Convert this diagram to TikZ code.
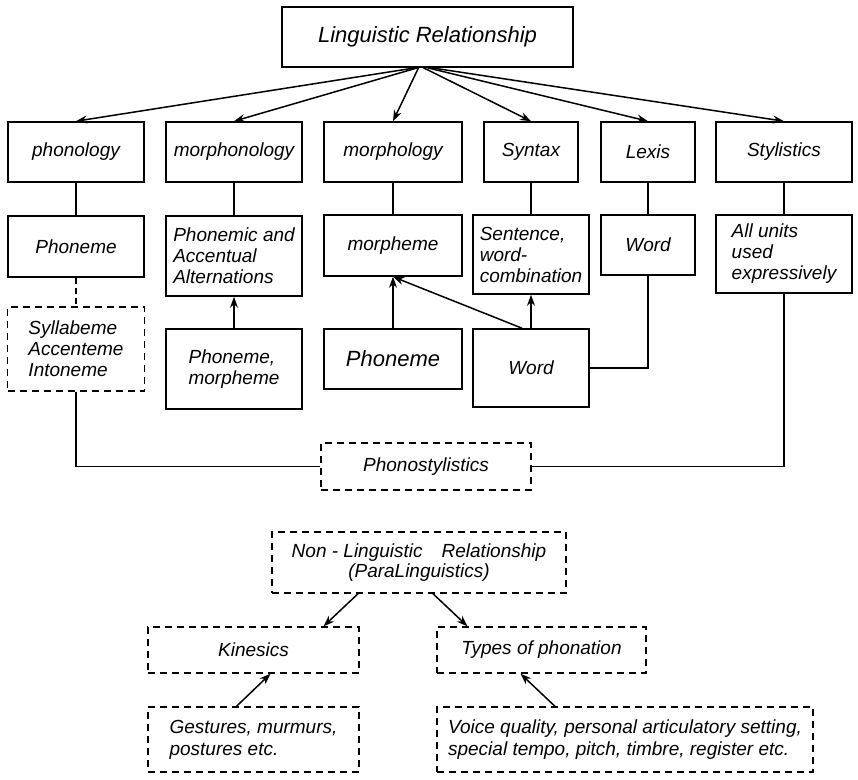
\documentclass[tikz,border=0pt]{standalone}
\usepackage{fontspec}
\setmainfont{Liberation Sans}
\usetikzlibrary{arrows.meta}

\begin{document}
\begin{tikzpicture}[x=1pt,y=1pt,yscale=-1,xscale=1,
  box/.style={draw, line width=1.6pt, inner sep=2pt, align=center, font=\itshape\fontsize{19}{21}\selectfont},
  dbox/.style={box, line width=1.4pt, dash pattern=on 7pt off 5pt},
  link/.style={line width=1.5pt},
  arr/.style={line width=1.5pt, -{Stealth[length=11pt,width=8pt]}}]
\useasboundingbox (0,0) rectangle (858,779);

% Text Node
\node [box, minimum width=291, minimum height=60, font=\itshape\fontsize{22}{26}\selectfont] (ling) at (427.5,37) {Linguistic Relationship};

% Text Node
\node [box, minimum width=136, minimum height=60] (phonology) at (76,152) {phonology};
% Text Node
\node [box, minimum width=136, minimum height=60] (morphonology) at (234,152) {morphonology};
% Text Node
\node [box, minimum width=138, minimum height=60] (morphology) at (393,152) {morphology};
% Text Node
\node [box, minimum width=94, minimum height=60] (syntax) at (531,152) {Syntax};
% Text Node
\node [box, minimum width=94, minimum height=60] (lexis) at (648,152) {Lexis};
% Text Node
\node [box, minimum width=136, minimum height=60] (stylistics) at (784,152) {Stylistics};

% Text Node
\node [box, minimum width=136, minimum height=61] (phoneme) at (76,246.5) {Phoneme};
% Text Node
\node [box, align=left, minimum width=136, minimum height=80] (alternations) at (234,256) {Phonemic and\\Accentual\\Alternations};
% Text Node
\node [box, minimum width=138, minimum height=61] (morpheme) at (393,245.5) {morpheme};
% Text Node
\node [box, align=left, minimum width=116, minimum height=79] (sentence) at (531,254.5) {Sentence,\\word-\\combination};
% Text Node
\node [box, minimum width=94, minimum height=60] (lexword) at (648,245) {Word};
% Text Node
\node [box, align=left, minimum width=136, minimum height=78] (allunits) at (784,254) {All units\\used\\expressively};

% Text Node
\node [dbox, align=left, minimum width=137, minimum height=84] (syllabeme) at (76,349) {Syllabeme\\Accenteme\\Intoneme};
% Text Node
\node [box, align=left, minimum width=136, minimum height=80] (phonmorph) at (234,369) {Phoneme,\\morpheme};
% Text Node
\node [box, minimum width=138, minimum height=60, font=\itshape\fontsize{22}{26}\selectfont] (phoneme2) at (393,359) {Phoneme};
% Text Node
\node [box, minimum width=116, minimum height=78] (word) at (531,368) {Word};

% Text Node
\node [dbox, minimum width=210, minimum height=47] (phonostyl) at (426,466.5) {Phonostylistics};

% Text Node
\node [dbox, minimum width=294, minimum height=61, font=\itshape\fontsize{19}{20}\selectfont] (nonling) at (419,562.5) {Non - Linguistic\quad Relationship\\(ParaLinguistics)};
% Text Node
\node [dbox, minimum width=211, minimum height=46] (kinesics) at (253.5,650) {Kinesics};
% Text Node
\node [dbox, minimum width=209, minimum height=46] (types) at (541.5,650) {Types of phonation};
% Text Node
\node [dbox, align=left, minimum width=211, minimum height=65, font=\itshape\fontsize{19}{22}\selectfont] (gestures) at (253.5,739.5) {Gestures, murmurs,\\postures etc.};
% Text Node
\node [dbox, align=left, minimum width=376, minimum height=65, font=\itshape\fontsize{19}{22}\selectfont] (voice) at (625,739.5) {Voice quality, personal articulatory setting,\\special tempo, pitch, timbre, register etc.};

% Arrows from the top
\draw [arr] ([xshift=-12pt]ling.south) -- (phonology.north);
\draw [arr] ([xshift=-10pt]ling.south) -- (morphonology.north);
\draw [arr] ([xshift=-9pt]ling.south) -- (morphology.north);
\draw [arr] ([xshift=-4pt]ling.south) -- (syntax.north);
\draw [arr] ([xshift=0pt]ling.south) -- (lexis.north);
\draw [arr] ([xshift=4pt]ling.south) -- (stylistics.north);

% Straight Lines
\draw [link] (phonology.south) -- (phoneme.north);
\draw [link] (morphonology.south) -- (alternations.north);
\draw [link] (morphology.south) -- (morpheme.north);
\draw [link] (syntax.south) -- (sentence.north);
\draw [link] (lexis.south) -- (lexword.north);
\draw [link] (stylistics.south) -- (allunits.north);
\draw [link, dash pattern=on 6pt off 4pt] (phoneme.south) -- (syllabeme.north);

\draw [arr] (phonmorph.north) -- (alternations.south);
\draw [arr] (phoneme2.north) -- (morpheme.south);
\draw [arr] ([xshift=-9pt]word.north) -- (morpheme.south);
\draw [arr] (word.north) -- (sentence.south);

\draw [link] (lexword.south) |- (word.east);
\draw [link] (syllabeme.south) |- (phonostyl.west);
\draw [link] (allunits.south) |- (phonostyl.east);

% Arrows below
\draw [arr] ([xshift=-61pt]nonling.south) -- ([xshift=70pt]kinesics.north);
\draw [arr] ([xshift=14pt]nonling.south) -- ([xshift=-74pt]types.north);
\draw [arr] ([xshift=-17pt]gestures.north) -- ([xshift=17pt]kinesics.south);
\draw [arr] ([xshift=-70pt]voice.north) -- ([xshift=-21pt]types.south);

\end{tikzpicture}
\end{document}
